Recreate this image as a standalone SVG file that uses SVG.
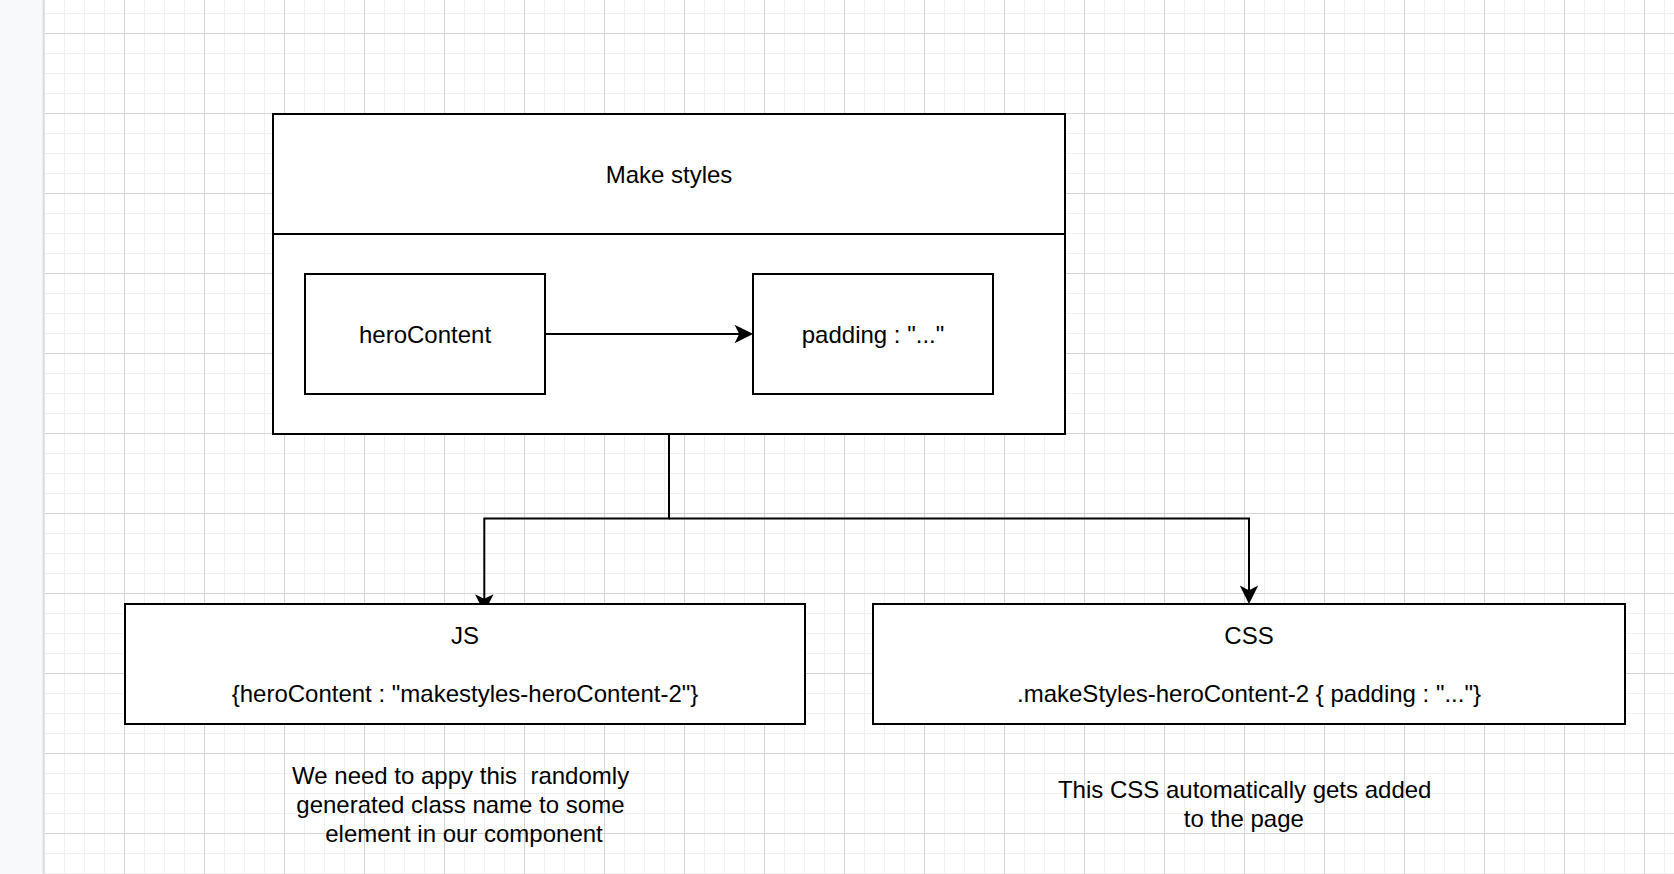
<svg xmlns="http://www.w3.org/2000/svg" width="1674" height="874" viewBox="0 0 1674 874">
  <style>
    .box { fill: #ffffff; stroke: #000000; stroke-width: 2; }
    .edge { fill: none; stroke: #000000; stroke-width: 2; }
    .t { font-family: "Liberation Sans", Arial, Helvetica, sans-serif; font-size: 24px; fill: #000000; text-anchor: middle; }
  </style>
  <defs>
    <pattern id="grid" x="44" y="33" width="80" height="80" patternUnits="userSpaceOnUse">
      <path d="M20.5,0V80M40.5,0V80M60.5,0V80M0,20.5H80M0,40.5H80M0,60.5H80" stroke="#f0f0f0" stroke-width="1" fill="none"/>
      <path d="M0.5,0V80M0,0.5H80" stroke="#d4d4d4" stroke-width="1" fill="none"/>
    </pattern>
    <linearGradient id="shadow" x1="0" y1="0" x2="1" y2="0">
      <stop offset="0" stop-color="#f8f9fa"/>
      <stop offset="0.6" stop-color="#d6d6d6"/>
      <stop offset="1" stop-color="#ececec"/>
    </linearGradient>
    <marker id="arrow" markerUnits="userSpaceOnUse" orient="auto" overflow="visible" refX="0" refY="0" markerWidth="1" markerHeight="1">
      <path d="M10.5,0 L-3.5,-7 L0,0 L-3.5,7 Z" fill="#000000" stroke="#000000" stroke-width="2"/>
    </marker>
  </defs>

  <!-- canvas -->
  <rect x="0" y="0" width="1674" height="874" fill="#ffffff"/>
  <rect x="44" y="0" width="1630" height="874" fill="url(#grid)"/>
  <rect x="0" y="0" width="42" height="874" fill="#f8f9fa"/>
  <rect x="42" y="0" width="3" height="874" fill="url(#shadow)"/>

  <!-- container: Make styles -->
  <g id="node-makestyles">
    <rect class="box" x="273" y="114" width="792" height="320"/>
    <line x1="273" y1="234" x2="1065" y2="234" stroke="#000000" stroke-width="2"/>
    <text class="t" x="669" y="183">Make styles</text>
  </g>

  <!-- connectors -->
  <g id="connectors">
    <path class="edge" d="M545,334 H740.3" marker-end="url(#arrow)"/>
    <path class="edge" d="M669,434 V518.5 H484.3 V600" marker-end="url(#arrow)"/>
    <path class="edge" d="M669,518.5 H1249 V591.3" marker-end="url(#arrow)"/>
  </g>

  <g id="node-herocontent">
    <rect class="box" x="305" y="274" width="240" height="120"/>
    <text class="t" x="425" y="343">heroContent</text>
  </g>

  <g id="node-padding">
    <rect class="box" x="753" y="274" width="240" height="120"/>
    <text class="t" x="873" y="343">padding : "..."</text>
  </g>

  <g id="node-js">
    <rect class="box" x="125" y="604" width="680" height="120"/>
    <text class="t" x="465" y="644">JS</text>
    <text class="t" x="465" y="701.5">{heroContent : "makestyles-heroContent-2"}</text>
  </g>

  <g id="node-css">
    <rect class="box" x="873" y="604" width="752" height="120"/>
    <text class="t" x="1249" y="644">CSS</text>
    <text class="t" x="1249" y="701.5">.makeStyles-heroContent-2 { padding : "..."}</text>
  </g>

  <g id="note-js">
    <text class="t" x="460.6" y="784">We need to appy this&#160; randomly</text>
    <text class="t" x="460.4" y="812.8">generated class name to some</text>
    <text class="t" x="464" y="841.6">element in our component</text>
  </g>

  <g id="note-css">
    <text class="t" x="1244.7" y="797.8">This CSS automatically gets added</text>
    <text class="t" x="1243.8" y="826.6">to the page</text>
  </g>
</svg>
